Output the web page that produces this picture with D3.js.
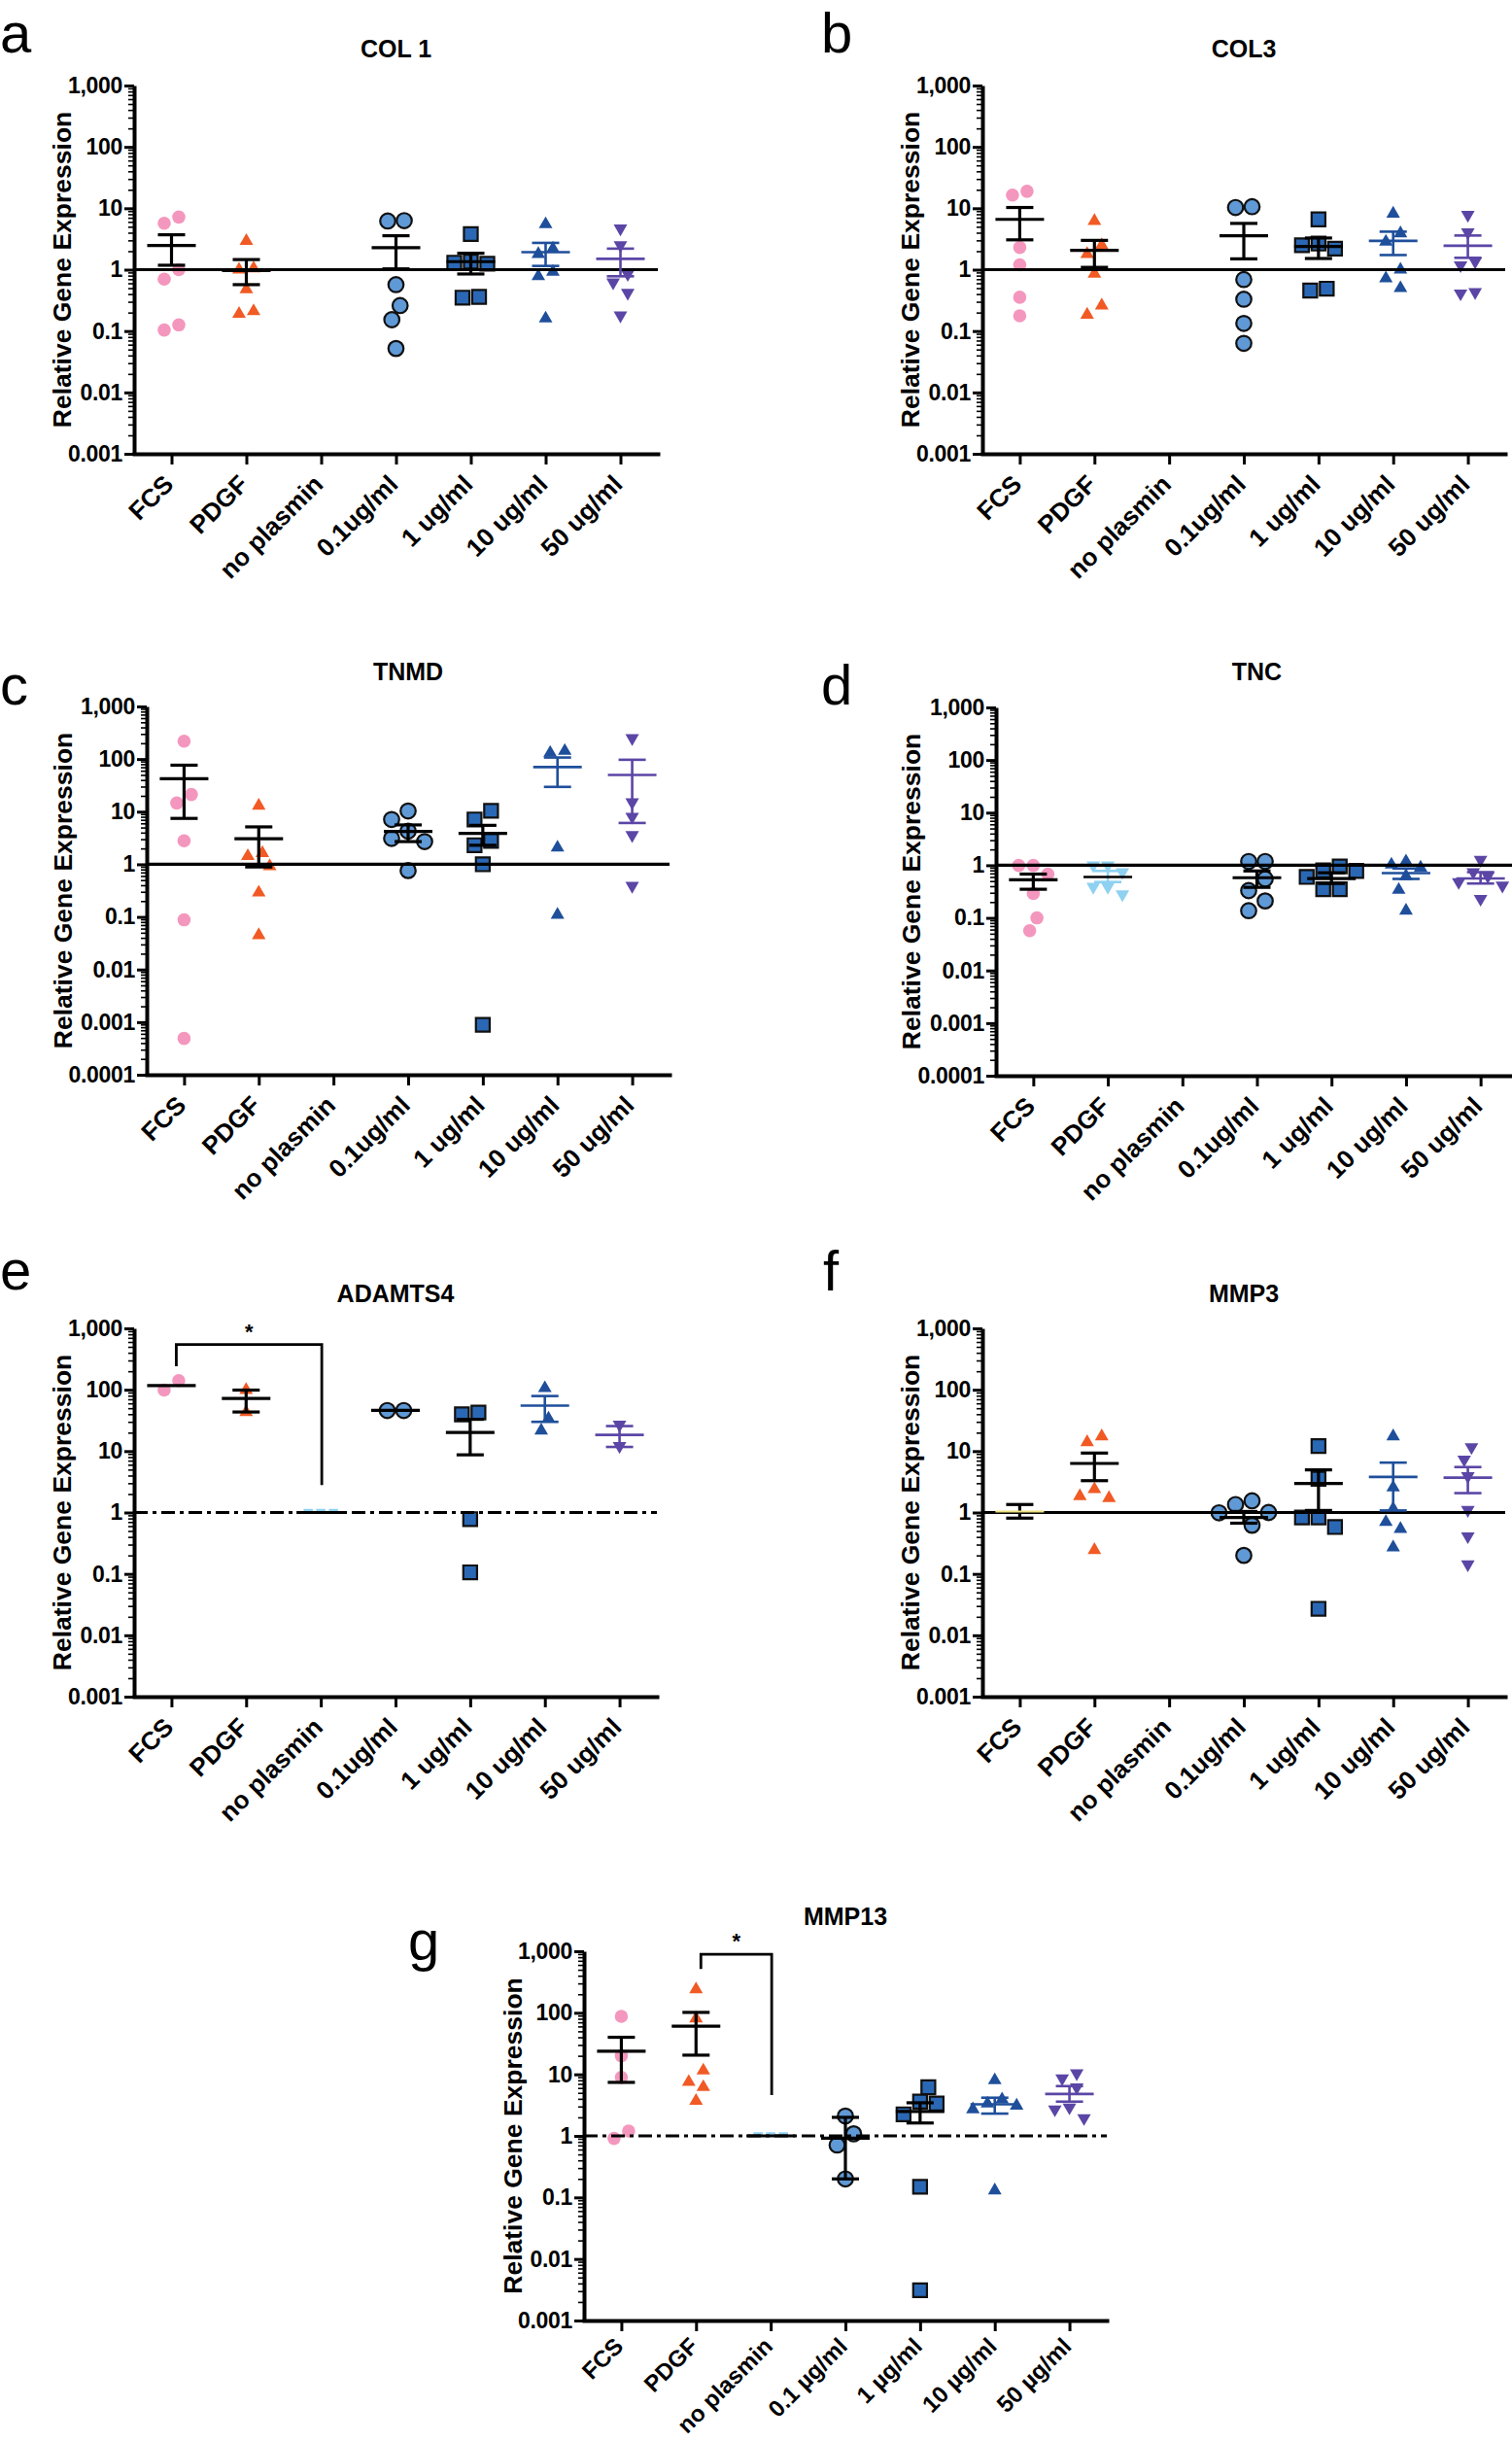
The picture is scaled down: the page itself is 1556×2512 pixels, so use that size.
<!DOCTYPE html>
<html><head><meta charset="utf-8">
<script src="https://cdn.jsdelivr.net/npm/d3@7"></script>
<style>body{margin:0;background:#fff}</style>
</head><body><svg id="c" width="1556" height="2512"></svg>
<script>
// ---------------- DATA ----------------
const categories = ["FCS","PDGF","no plasmin","0.1ug/ml","1 ug/ml","10 ug/ml","50 ug/ml"];
const categoriesG = ["FCS","PDGF","no plasmin","0.1 µg/ml","1 µg/ml","10 µg/ml","50 µg/ml"];
const yTicks3 = [0.001,0.01,0.1,1,10,100,1000];
const yTickLabels3 = ["0.001","0.01","0.1","1","10","100","1,000"];
const yTicks4 = [0.0001,0.001,0.01,0.1,1,10,100,1000];
const yTickLabels4 = ["0.0001","0.001","0.01","0.1","1","10","100","1,000"];

// a  COL 1
const col1Points = [[5.7,7.2,1.0,0.70,0.104,0.126],[2.93,1.0,1.05,0.48,0.19,0.21],[],[6.3,6.2,0.57,0.26,0.153,0.052],[3.8,1.3,1.25,1.35,0.35,0.36],[5.5,1.8,2.2,0.92,0.78,0.16],[4.7,2.5,0.85,0.62,0.42,0.18]];
const col1Mean = [2.48,0.97,null,2.28,1.35,1.93,1.5];
const col1Lo   = [1.18,0.57,null,1.03,0.85,1.15,0.78];
const col1Hi   = [3.7,1.46,null,3.57,1.85,2.73,2.2];
// b  COL3
const col3Points = [[16.4,18.9,2.3,1.2,0.355,0.177],[6.2,1.8,2.5,0.86,0.184,0.26],[],[10.3,10.6,0.69,0.33,0.133,0.063],[6.6,2.5,2.2,2.66,0.457,0.49],[8.16,2.85,3.9,1.0,0.72,0.5],[7.8,4.05,1.36,1.18,0.41,0.43]];
const col3Mean = [6.6,2.07,null,3.57,2.38,2.94,2.45];
const col3Lo   = [3.06,1.09,null,1.5,1.52,1.73,1.56];
const col3Hi   = [10.3,3.0,null,5.67,3.28,4.16,3.6];
// c  TNMD
const tnmdPoints = [[218,21.2,14.6,2.8,0.088,0.00049],[13,1.63,1.43,0.92,0.29,0.045],[],[10.3,7.1,4.27,2.7,3.1,0.76],[10.4,7.1,2.3,2.8,1.0,0.00089],[131,143,2.07,0.11],[250,15.1,8.0,3.6,0.39]];
const tnmdMean = [42.4,3.05,null,4.2,3.86,70.4,50];
const tnmdLo   = [7.45,0.89,null,2.7,2.3,29.6,6.1];
const tnmdHi   = [76.5,5.14,null,5.6,5.5,107,97];
// d  TNC
const tncPoints = [[0.99,0.99,0.68,0.29,0.1,0.057],[1.0,1.0,0.74,0.39,0.39,0.28],[],[1.18,1.18,0.55,0.33,0.21,0.137],[0.95,0.78,0.8,0.6,0.35,0.35],[1.18,1.03,0.9,0.62,0.34,0.137],[1.27,0.74,0.62,0.48,0.41,0.23]];
const tncMean = [0.53,0.6,null,0.58,0.56,0.71,0.56];
const tncLo   = [0.35,0.48,null,0.38,0.45,0.55,0.45];
const tncHi   = [0.68,0.78,null,0.78,0.72,0.87,0.74];
// e  ADAMTS4
const adamts4Points = [[98.7,141],[99,43],[1,1,1],[45.9,45.9],[39.7,42.5,0.78,0.106],[106,21.6,34],[27,12.1]];
const adamts4Mean = [117,71.9,1,46,20.1,55,18.4];
const adamts4Lo   = [null,43.4,null,null,8.7,30,11.7];
const adamts4Hi   = [null,98.7,null,null,33,79,25.6];
const adamts4Sig  = {from:"FCS", to:"no plasmin", bar:545, leftEnd:242, rightEnd:2.8, label:"*"};
// f  MMP3
const mmp3Points = [[],[14,17.4,2.4,1.85,1.72,0.245],[],[1.35,1.55,1.0,0.99,0.62,0.2],[12.1,3.55,0.83,0.83,0.58,0.027],[17.4,2.55,1.15,0.7,0.54,0.27],[11.6,7.3,3.9,1.1,0.41,0.143]];
const mmp3Mean = [1.04,6.3,null,0.83,2.98,3.8,3.7];
const mmp3Lo   = [0.81,3.3,null,0.67,1.08,1.08,2.07];
const mmp3Hi   = [1.35,9.3,null,1.04,4.95,6.5,5.5];
// g  MMP13
const mmp13Points = [[87.7,20,8.9,1.2,0.91],[240,81,11.5,7.5,6.2,3.7],[1,1,1],[2.1,1.08,0.71,0.2],[6.15,3.6,3.35,2.24,0.149,0.0031],[8.0,3.9,3.35,3.1,2.7,0.13],[10.4,8.6,6.15,2.9,2.7,1.94]];
const mmp13Mean = [23.8,60.6,1,0.92,2.5,3.26,4.8];
const mmp13Lo   = [7.4,20.5,null,0.2,1.62,2.3,3.6];
const mmp13Hi   = [40,101.5,null,2.0,3.45,4.17,6.44];
const mmp13Sig  = {from:"PDGF", to:"no plasmin", bar:891, leftEnd:513, rightEnd:4.6, label:"*"};

// ---------------- STYLE / LAYOUT ----------------
const FONT = '"Liberation Sans", Arial, Helvetica, sans-serif';
const dash = {draw(ctx, size){ const w = Math.sqrt(size)*1.5, h = 3.5; ctx.rect(-w/2, -h/2 - 2, w, h); }};
const lightBlue = "#8fd1f0";
const baseStyles = [
  {type:d3.symbolCircle,   size:145, fill:"#f497be", stroke:"none", err:"#000", d:15},
  {type:d3.symbolTriangle, size:85,  fill:"#f15a24", stroke:"none", err:"#000", d:15},
  {type:dash,              size:40,  fill:lightBlue, stroke:"none", err:"#000", d:13},
  {type:d3.symbolCircle,   size:190, fill:"#5f99d6", stroke:"#111", err:"#000", d:17},
  {type:d3.symbolSquare,   size:200, fill:"#2a68b5", stroke:"#111", err:"#000", d:17},
  {type:d3.symbolTriangle, size:85,  fill:"#1f4f9b", stroke:"none", err:"#1f4f9b", d:15},
  {type:d3.symbolTriangle, size:85,  fill:"#5b46a6", stroke:"none", err:"#5b46a6", d:15, rot:180}
];

const panels = [
 {letter:"a", lx:0,   ly:54,   title:"COL 1",   cats:categories,  pts:col1Points,   mean:col1Mean,   lo:col1Lo,   hi:col1Hi,   ticks:yTicks3, labels:yTickLabels3, axisX:138,  xEnd:677,  yTop:88,   yBot:467,  ty:59,   ylabOff:65, dashRef:false},
 {letter:"b", lx:845, ly:54,   title:"COL3",    cats:categories,  pts:col3Points,   mean:col3Mean,   lo:col3Lo,   hi:col3Hi,   ticks:yTicks3, labels:yTickLabels3, axisX:1011, xEnd:1549, yTop:88,   yBot:467,  ty:59,   ylabOff:65, dashRef:false},
 {letter:"c", lx:0,   ly:725,  title:"TNMD",    cats:categories,  pts:tnmdPoints,   mean:tnmdMean,   lo:tnmdLo,   hi:tnmdHi,   ticks:yTicks4, labels:yTickLabels4, axisX:151,  xEnd:689,  yTop:727,  yBot:1106, ty:700,  ylabOff:77, dashRef:false},
 {letter:"d", lx:845, ly:725,  title:"TNC",     cats:categories,  pts:tncPoints,    mean:tncMean,    lo:tncLo,    hi:tncHi,    ticks:yTicks4, labels:yTickLabels4, axisX:1025, xEnd:1562, yTop:728,  yBot:1107, ty:700,  ylabOff:78, dashRef:false,
   styleOverride:{1:{type:d3.symbolTriangle, size:85, fill:lightBlue, stroke:"none", err:lightBlue, meanColor:"#000", d:15, rot:180}}},
 {letter:"e", lx:0,   ly:1327, title:"ADAMTS4", cats:categories,  pts:adamts4Points,mean:adamts4Mean,lo:adamts4Lo,hi:adamts4Hi,ticks:yTicks3, labels:yTickLabels3, axisX:138,  xEnd:676,  yTop:1367, yBot:1746, ty:1340, ylabOff:65, dashRef:true, sig:adamts4Sig},
 {letter:"f", lx:847, ly:1328, title:"MMP3",    cats:categories,  pts:mmp3Points,   mean:mmp3Mean,   lo:mmp3Lo,   hi:mmp3Hi,   ticks:yTicks3, labels:yTickLabels3, axisX:1011, xEnd:1549, yTop:1367, yBot:1746, ty:1340, ylabOff:65, dashRef:false,
   styleOverride:{0:{type:d3.symbolCircle, size:145, fill:"#f497be", stroke:"none", err:"#000", meanColor:"#ece07e", meanWidth:2, d:15}}},
 {letter:"g", lx:420, ly:2017, title:"MMP13",   cats:categoriesG, pts:mmp13Points,  mean:mmp13Mean,  lo:mmp13Lo,  hi:mmp13Hi,  ticks:yTicks3, labels:yTickLabels3, axisX:601,  xEnd:1139, yTop:2008, yBot:2388, ty:1981, ylabOff:64, dashRef:true, sig:mmp13Sig,
   xFont:24, xShift:[3,28]}
];

// ---------------- DRAW ----------------
const svg = d3.select("#c");
svg.append("rect").attr("width",1556).attr("height",2512).attr("fill","#fff");

function swarm(vals, y, d){
  const items = vals.map((v,i)=>({i, py:y(v), off:0}));
  const sorted = items.slice().sort((a,b)=>a.py-b.py);
  const placed = [];
  const cands = [0];
  for (let k=1;k<8;k++){ cands.push(-k*d/2, k*d/2); }
  sorted.forEach(it=>{
    for (const c of cands){
      const ok = placed.every(p=>Math.hypot(p.off-c, p.py-it.py) >= d*0.95);
      if (ok){ it.off = c; break; }
    }
    placed.push(it);
  });
  let cluster = [];
  const flush = ()=>{ if(cluster.length){ const mn=d3.min(cluster,c=>c.off), mx=d3.max(cluster,c=>c.off); cluster.forEach(c=>c.off-=(mn+mx)/2);} cluster=[]; };
  sorted.forEach((it,k)=>{
    if (k>0 && it.py - sorted[k-1].py >= d) flush();
    cluster.push(it);
  });
  flush();
  const out = []; items.forEach(it=>out[it.i]=it.off); return out;
}

panels.forEach(p=>{
  const g = svg.append("g");
  const x = d3.scalePoint().domain(p.cats).range([p.axisX, p.xEnd]).padding(0.5);
  const y = d3.scaleLog().domain([p.ticks[0], p.ticks[p.ticks.length-1]]).range([p.yBot, p.yTop]);

  g.append("text").attr("x",p.lx).attr("y",p.ly).attr("font-family",FONT).attr("font-size",58).attr("fill","#000").text(p.letter);
  g.append("text").attr("x",(p.axisX+p.xEnd)/2).attr("y",p.ty).attr("text-anchor","middle").attr("font-family",FONT).attr("font-weight","bold").attr("font-size",25).attr("fill","#000").text(p.title);

  // minor ticks
  const minor = [];
  const e0 = Math.round(Math.log10(p.ticks[0]));
  for (let e=e0; e<3; e++) for (let m=2;m<=9;m++) minor.push(m*Math.pow(10,e));
  const ym = g.append("g").attr("transform",`translate(${p.axisX},0)`)
    .call(d3.axisLeft(y).tickValues(minor).tickFormat("").tickSize(6).tickSizeOuter(0));
  ym.select(".domain").remove();
  ym.selectAll("line").attr("stroke","#000").attr("stroke-width",1.6);

  // major y axis
  const ya = g.append("g").attr("transform",`translate(${p.axisX},0)`)
    .call(d3.axisLeft(y).tickValues(p.ticks).tickFormat((d,i)=>p.labels[i]).tickSize(10).tickPadding(2).tickSizeOuter(0));
  ya.attr("font-family",FONT);
  ya.select(".domain").attr("stroke","#000").attr("stroke-width",4);
  ya.selectAll(".tick line").attr("stroke","#000").attr("stroke-width",3);
  ya.selectAll(".tick text").attr("font-size",23).attr("font-weight","bold").attr("fill","#000").attr("letter-spacing","-0.3");

  // x axis
  const xa = g.append("g").attr("transform",`translate(0,${p.yBot})`)
    .call(d3.axisBottom(x).tickSize(11).tickSizeOuter(0));
  xa.attr("font-family",FONT);
  xa.select(".domain").attr("stroke","#000").attr("stroke-width",4).attr("stroke-linecap","square");
  xa.selectAll(".tick line").attr("stroke","#000").attr("stroke-width",3);
  const sh = p.xShift || [3,33];
  xa.selectAll(".tick text").attr("font-size",p.xFont||26).attr("font-weight","bold").attr("fill","#000")
    .attr("x",0).attr("y",0).attr("dy",0).attr("text-anchor","end")
    .attr("transform",`translate(${sh[0]},${sh[1]}) rotate(-45)`);

  // y label
  g.append("text").attr("transform",`translate(${p.axisX - p.ylabOff},${(p.yTop+p.yBot)/2}) rotate(-90)`)
    .attr("text-anchor","middle").attr("font-family",FONT).attr("font-weight","bold").attr("font-size",26.5).attr("fill","#000")
    .text("Relative Gene Expression");

  // points
  p.pts.forEach((vals, gi)=>{
    const st = (p.styleOverride && p.styleOverride[gi]) || baseStyles[gi];
    const offs = swarm(vals, y, st.d);
    const sym = d3.symbol(st.type, st.size)();
    vals.forEach((v,k)=>{
      g.append("path").attr("d",sym)
        .attr("transform",`translate(${x(p.cats[gi])+offs[k]},${y(v)}) rotate(${st.rot||0})`)
        .attr("fill",st.fill).attr("stroke",st.stroke).attr("stroke-width",st.stroke==="none"?0:2.2);
    });
  });

  // reference line at 1
  g.append("line").attr("x1",p.axisX).attr("x2",p.xEnd).attr("y1",y(1)).attr("y2",y(1))
    .attr("stroke","#000").attr("stroke-width",3.2)
    .attr("stroke-dasharray",p.dashRef?"14,5,4,5":null);

  // mean & SEM
  p.cats.forEach((c,gi)=>{
    const st = (p.styleOverride && p.styleOverride[gi]) || baseStyles[gi];
    const cx = x(c);
    const col = st.err;
    const w = col==="#000" ? 3.2 : 2.6;
    if (p.lo[gi]!=null && p.hi[gi]!=null){
      g.append("line").attr("x1",cx).attr("x2",cx).attr("y1",y(p.lo[gi])).attr("y2",y(p.hi[gi])).attr("stroke",col).attr("stroke-width",w);
      [p.lo[gi],p.hi[gi]].forEach(v=>g.append("line").attr("x1",cx-14).attr("x2",cx+14).attr("y1",y(v)).attr("y2",y(v)).attr("stroke",col).attr("stroke-width",w));
    }
    if (p.mean[gi]!=null){
      g.append("line").attr("x1",cx-25).attr("x2",cx+25).attr("y1",y(p.mean[gi])).attr("y2",y(p.mean[gi]))
        .attr("stroke",st.meanColor||col).attr("stroke-width",st.meanWidth||w);
    }
  });

  // significance bracket
  if (p.sig){
    const s = p.sig, x1 = x(s.from)+5, x2 = x(s.to)+1;
    g.append("path").attr("d",`M${x1},${y(s.leftEnd)}V${y(s.bar)}H${x2}V${y(s.rightEnd)}`)
      .attr("fill","none").attr("stroke","#000").attr("stroke-width",2.8);
    g.append("text").attr("x",(x1+x2)/2).attr("y",y(s.bar)-6).attr("text-anchor","middle")
      .attr("font-family",FONT).attr("font-weight","bold").attr("font-size",22).attr("fill","#000").text(s.label);
  }
});
</script></body></html>
